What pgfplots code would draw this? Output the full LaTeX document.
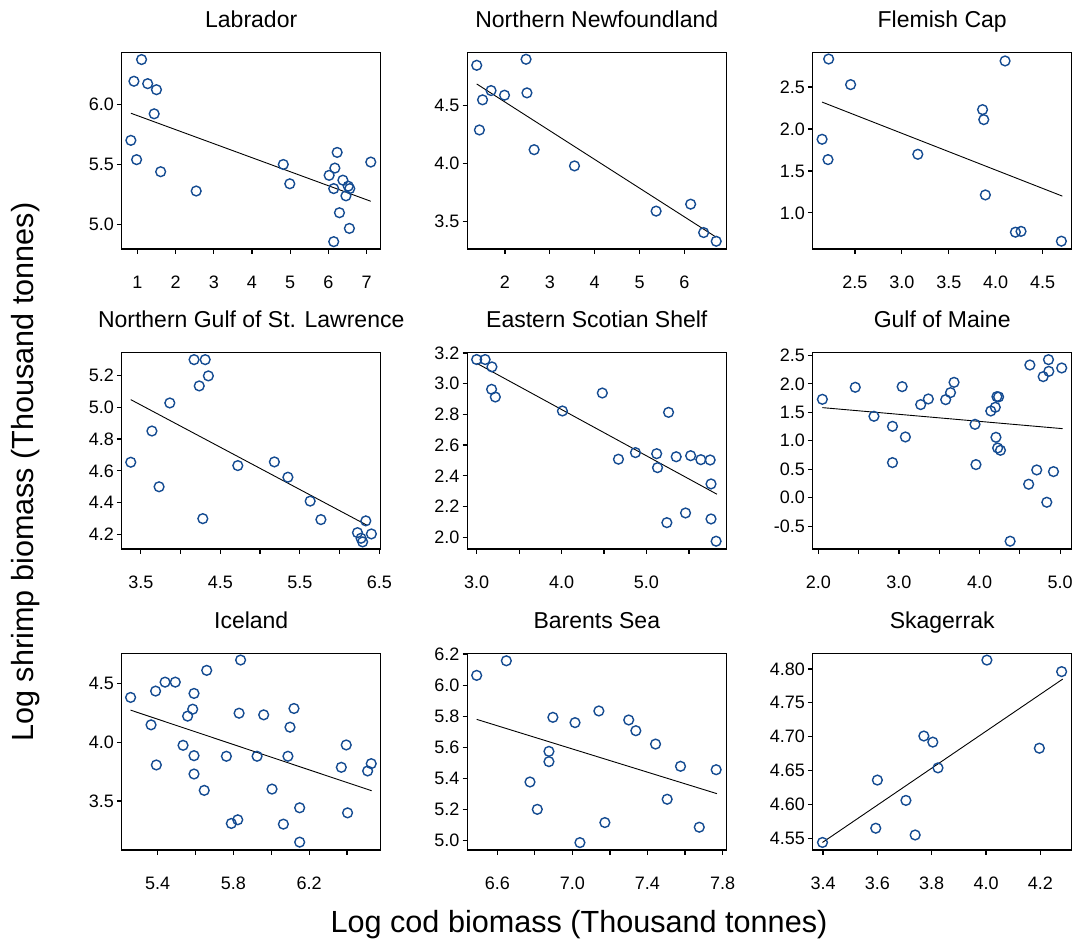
\documentclass[border=0pt]{standalone}
\usepackage{fontspec}
\setmainfont{Liberation Sans}
\usepackage{pgfplots}
\pgfplotsset{compat=1.18}
\definecolor{ptblue}{RGB}{20,75,145}
\pgfplotsset{
  panel/.style={scale only axis, width=129.5pt, height=98.3pt, anchor=north west, clip=false,
    axis line style={line width=0.6pt},
    tick style={line width=0.6pt, black}, tick align=outside, major tick length=2.4pt,
    xtick pos=bottom, ytick pos=left, minor tick num=0,
    ticklabel style={font=\fontsize{9}{10}\selectfont},
    xticklabel style={yshift=-7.5pt},
    yticklabel style={inner xsep=1.3pt},
    title style={at={(0.5,1)}, anchor=base, yshift=6.6pt, font=\fontsize{11.5}{13}\selectfont},
  },
  pts/.style={only marks, mark=o, mark size=2.45pt, mark options={draw=ptblue, line width=0.7pt}},
  fit/.style={black, line width=0.45pt, no marks},
}
\begin{document}
\begin{tikzpicture}
\useasboundingbox (0,0) rectangle (539pt,-472pt);

% ---- row 1
\begin{axis}[panel, at={(60.85pt,-26.15pt)}, title={Labrador},
  xmin=0.59, xmax=7.37, ymin=4.80, ymax=6.43,
  xtick={1,2,3,4,5,6,7}, xticklabels={1,2,3,4,5,6,7},
  ytick={5,5.5,6}, yticklabels={5.0,5.5,6.0}]
\addplot[pts] table {
x y
1.11 6.37
0.91 6.19
1.27 6.17
1.50 6.12
1.44 5.92
0.83 5.70
0.98 5.54
1.61 5.44
2.54 5.28
4.82 5.50
4.99 5.34
6.23 5.60
6.17 5.47
6.02 5.41
6.38 5.37
6.14 5.30
6.52 5.32
6.56 5.30
6.46 5.24
6.29 5.10
6.55 4.97
6.14 4.86
7.11 5.52
};
\addplot[fit] coordinates {(0.83,5.925) (7.11,5.195)};
\end{axis}

\begin{axis}[panel, at={(233.65pt,-26.15pt)}, title={Northern Newfoundland},
  xmin=1.16, xmax=6.935, ymin=3.264, ymax=4.96,
  xtick={2,3,4,5,6}, xticklabels={2,3,4,5,6},
  ytick={3.5,4,4.5}, yticklabels={3.5,4.0,4.5}]
\addplot[pts] table {
x y
1.37 4.848
2.47 4.90
1.43 4.29
1.50 4.55
1.69 4.63
1.99 4.59
2.49 4.61
2.65 4.12
3.55 3.98
5.37 3.59
6.14 3.65
6.43 3.405
6.71 3.33
};
\addplot[fit] coordinates {(1.37,4.687) (6.71,3.365)};
\end{axis}

\begin{axis}[panel, at={(406.35pt,-26.15pt)}, title={Flemish Cap},
  xmin=2.05, xmax=4.81, ymin=0.571, ymax=2.913,
  xtick={2.5,3,3.5,4,4.5}, xticklabels={2.5,3.0,3.5,4.0,4.5},
  ytick={1,1.5,2,2.5}, yticklabels={1.0,1.5,2.0,2.5}]
\addplot[pts] table {
x y
2.22 2.833
2.454 2.528
2.15 1.877
2.213 1.635
3.17 1.698
3.86 2.23
3.873 2.111
3.89 1.214
4.10 2.81
4.21 0.77
4.27 0.78
4.70 0.663
};
\addplot[fit] coordinates {(2.15,2.32) (4.71,1.20)};
\end{axis}

% ---- row 2
\begin{axis}[panel, at={(60.85pt,-176.15pt)}, title={Northern Gulf of St. Lawrence},
  xmin=3.26, xmax=6.517, ymin=4.11, ymax=5.344,
  xtick={3.5,4,4.5,5,5.5,6,6.5}, xticklabels={3.5,,4.5,,5.5,,6.5},
  ytick={4.2,4.4,4.6,4.8,5.0,5.2}, yticklabels={4.2,4.4,4.6,4.8,5.0,5.2}]
\addplot[pts] table {
x y
3.374 4.654
3.64 4.85
3.73 4.50
3.865 5.026
4.17 5.298
4.31 5.298
4.235 5.133
4.35 5.196
4.28 4.30
4.72 4.633
5.18 4.656
5.35 4.56
5.63 4.41
5.765 4.294
6.225 4.212
6.33 4.286
6.40 4.204
6.27 4.177
6.29 4.154
};
\addplot[fit] coordinates {(3.374,5.047) (6.34,4.26)};
\end{axis}

\begin{axis}[panel, at={(233.65pt,-176.15pt)}, title={Eastern Scotian Shelf},
  xmin=2.89, xmax=5.94, ymin=1.924, ymax=3.204,
  xtick={3,3.5,4,4.5,5,5.5}, xticklabels={3.0,,4.0,,5.0,},
  ytick={2,2.2,2.4,2.6,2.8,3.0,3.2}, yticklabels={2.0,2.2,2.4,2.6,2.8,3.0,3.2}]
\addplot[pts] table {
x y
3.00 3.157
3.10 3.157
3.18 3.109
3.176 2.963
3.22 2.913
4.01 2.822
4.48 2.939
4.67 2.508
4.87 2.551
5.12 2.544
5.13 2.453
5.26 2.813
5.35 2.524
5.52 2.531
5.64 2.505
5.75 2.503
5.76 2.347
5.24 2.095
5.46 2.158
5.76 2.119
5.82 1.974
};
\addplot[fit] coordinates {(3.0,3.133) (5.83,2.28)};
\end{axis}

\begin{axis}[panel, at={(406.35pt,-176.15pt)}, title={Gulf of Maine},
  xmin=1.93, xmax=5.144, ymin=-0.898, ymax=2.553,
  xtick={2,2.5,3,3.5,4,4.5,5}, xticklabels={2.0,,3.0,,4.0,,5.0},
  ytick={-0.5,0,0.5,1,1.5,2,2.5}, yticklabels={-0.5,0.0,0.5,1.0,1.5,2.0,2.5}]
\addplot[pts] table {
x y
2.05 1.728
2.458 1.939
2.69 1.43
2.92 1.254
2.92 0.617
3.04 1.95
3.08 1.067
3.27 1.635
3.365 1.734
3.58 1.722
3.64 1.845
3.684 2.026
3.944 1.289
3.956 0.582
4.14 1.523
4.196 1.588
4.216 1.775
4.237 1.77
4.204 1.061
4.225 0.874
4.26 0.833
4.38 -0.763
4.61 0.237
4.625 2.33
4.71 0.488
4.79 2.126
4.856 2.424
4.86 2.219
4.835 -0.079
4.918 0.459
5.02 2.278
};
\addplot[fit] coordinates {(2.05,1.582) (5.03,1.213)};
\end{axis}

% ---- row 3
\begin{axis}[panel, at={(60.85pt,-326.65pt)}, title={Iceland},
  xmin=5.21, xmax=6.578, ymin=3.085, ymax=4.756,
  xtick={5.4,5.6,5.8,6.0,6.2,6.4}, xticklabels={5.4,,5.8,,6.2,},
  ytick={3.5,4,4.5}, yticklabels={3.5,4.0,4.5}]
\addplot[pts] table {
x y
5.257 4.381
5.365 4.148
5.389 4.435
5.393 3.807
5.439 4.511
5.493 4.511
5.534 3.974
5.558 4.222
5.585 4.281
5.592 4.415
5.592 3.886
5.592 3.73
5.646 3.591
5.659 4.611
5.763 3.881
5.789 3.31
5.823 3.341
5.83 4.247
5.838 4.699
5.925 3.881
5.96 4.233
6.004 3.602
6.064 3.304
6.088 3.881
6.099 4.128
6.12 4.287
6.15 3.443
6.15 3.151
6.37 3.787
6.396 3.977
6.403 3.40
6.509 3.756
6.528 3.818
};
\addplot[fit] coordinates {(5.257,4.273) (6.53,3.588)};
\end{axis}

\begin{axis}[panel, at={(233.65pt,-326.65pt)}, title={Barents Sea},
  xmin=6.44, xmax=7.82, ymin=4.94, ymax=6.205,
  xtick={6.6,6.8,7.0,7.2,7.4,7.6,7.8}, xticklabels={6.6,,7.0,,7.4,,7.8},
  ytick={5,5.2,5.4,5.6,5.8,6.0,6.2}, yticklabels={5.0,5.2,5.4,5.6,5.8,6.0,6.2}]
\addplot[pts] table {
x y
6.49 6.063
6.648 6.157
6.774 5.377
6.813 5.201
6.875 5.574
6.875 5.508
6.896 5.793
7.014 5.759
7.04 4.987
7.141 5.834
7.173 5.116
7.30 5.776
7.338 5.707
7.443 5.621
7.505 5.266
7.576 5.478
7.676 5.086
7.766 5.456
};
\addplot[fit] coordinates {(6.49,5.78) (7.77,5.302)};
\end{axis}

\begin{axis}[panel, at={(406.35pt,-326.65pt)}, title={Skagerrak},
  xmin=3.362, xmax=4.315, ymin=4.533, ymax=4.823,
  xtick={3.4,3.6,3.8,4.0,4.2}, xticklabels={3.4,3.6,3.8,4.0,4.2},
  ytick={4.55,4.6,4.65,4.7,4.75,4.8}, yticklabels={4.55,4.60,4.65,4.70,4.75,4.80}]
\addplot[pts] table {
x y
3.398 4.544
3.594 4.565
3.60 4.636
3.705 4.606
3.739 4.555
3.771 4.701
3.804 4.692
3.823 4.654
4.003 4.813
4.196 4.683
4.278 4.796
};
\addplot[fit] coordinates {(3.398,4.544) (4.282,4.785)};
\end{axis}

\node[anchor=base, font=\fontsize{15.3}{18}\selectfont] at (289.5pt,-466pt) {Log cod biomass (Thousand tonnes)};
\node[anchor=base, rotate=90, font=\fontsize{15.3}{18}\selectfont] at (16.5pt,-236pt) {Log shrimp biomass (Thousand tonnes)};
\end{tikzpicture}
\end{document}
